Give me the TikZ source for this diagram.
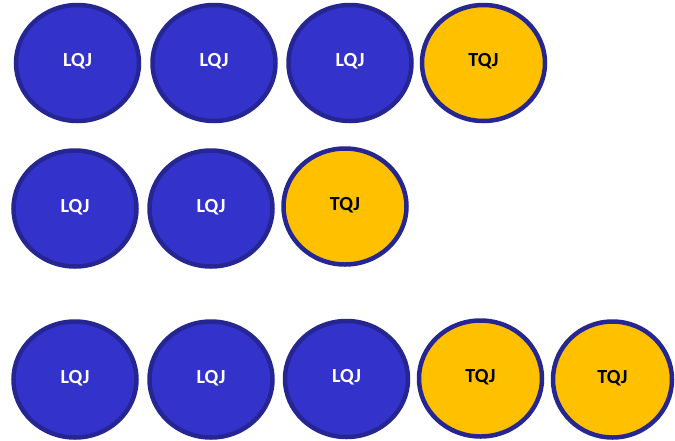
\documentclass[tikz,border=0pt]{standalone}
\usepackage{fontspec}
\setmainfont{Carlito}
\usetikzlibrary{shapes.geometric}
\definecolor{ringc}{HTML}{262693}
\definecolor{bluef}{HTML}{3333CC}
\definecolor{goldf}{HTML}{FFC000}
\newcommand{\lift}[1]{\raisebox{5.5pt}{#1}}
\tikzset{
  disc/.style={ellipse, draw=ringc, line width=4.5pt, minimum width=123pt, minimum height=116pt, inner sep=0pt, font=\fontsize{20}{20}\selectfont\bfseries},
  lqj/.style={disc, fill=bluef, text=white},
  tqj/.style={disc, fill=goldf, text=black}
}
\begin{document}
\begin{tikzpicture}[x=1pt,y=-1pt]
\useasboundingbox (0,0) rectangle (675,440);
% row 1
\node[lqj] (a1) at (77.5,63) {\lift{LQJ}};
\node[lqj] (a2) at (214,63) {\lift{LQJ}};
\node[lqj] (a3) at (350,63) {\lift{LQJ}};
\node[tqj] (a4) at (483.5,63) {\lift{TQJ}};
% row 2
\node[lqj] (b1) at (75,208.5) {\lift{LQJ}};
\node[lqj] (b2) at (211,208.5) {\lift{LQJ}};
\node[tqj] (b3) at (345,206.5) {\lift{TQJ}};
% row 3
\node[lqj] (c1) at (75,379.5) {\lift{LQJ}};
\node[lqj] (c2) at (211,379.5) {\lift{LQJ}};
\node[lqj] (c3) at (346.5,379) {\lift{LQJ}};
\node[tqj] (c4) at (480.5,378.5) {\lift{TQJ}};
\node[tqj, minimum width=119pt] (c5) at (612.5,379.5) {\lift{TQJ}};
\end{tikzpicture}
\end{document}
